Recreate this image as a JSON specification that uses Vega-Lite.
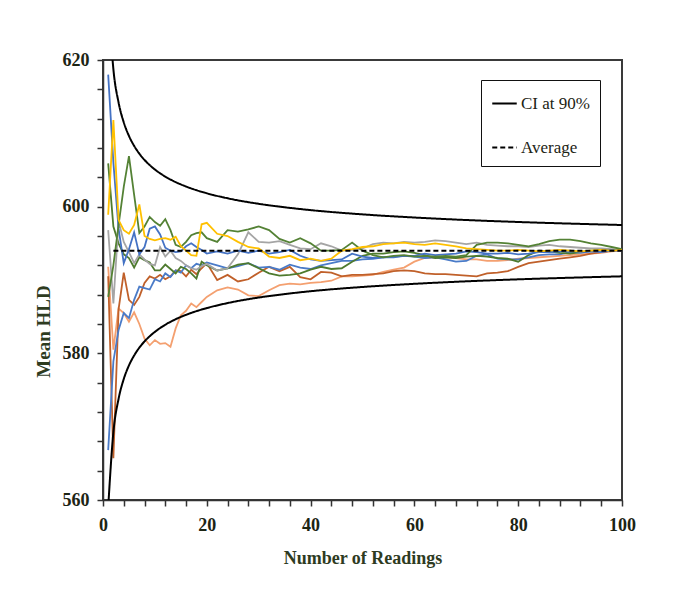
{
  "$schema": "https://vega.github.io/schema/vega-lite/v6.json",
  "width": 519,
  "height": 440,
  "autosize": {"type": "none"},
  "padding": {"left": 103, "top": 60, "right": 54, "bottom": 105},
  "background": "white",
  "config": {
    "font": "Liberation Serif",
    "view": {"stroke": "#3a3a3a", "strokeWidth": 2}
  },
  "datasets": {
    "runs": [
      {"s":"sa","n":1,"v":591.8},{"s":"sa","n":2,"v":580.5},{"s":"sa","n":3,"v":586.1},{"s":"sa","n":4,"v":585.5},{"s":"sa","n":5,"v":584.3},{"s":"sa","n":6,"v":585.6},{"s":"sa","n":7,"v":584.0},{"s":"sa","n":8,"v":582.0},{"s":"sa","n":9,"v":581.1},{"s":"sa","n":10,"v":581.8},
      {"s":"sa","n":11,"v":581.3},{"s":"sa","n":12,"v":581.4},{"s":"sa","n":13,"v":580.9},{"s":"sa","n":14,"v":583.4},{"s":"sa","n":15,"v":585.2},{"s":"sa","n":16,"v":585.8},{"s":"sa","n":17,"v":586.8},{"s":"sa","n":18,"v":586.3},{"s":"sa","n":19,"v":587.0},{"s":"sa","n":20,"v":587.7},
      {"s":"sa","n":22,"v":588.6},{"s":"sa","n":24,"v":589.0},{"s":"sa","n":26,"v":588.7},{"s":"sa","n":28,"v":587.9},{"s":"sa","n":30,"v":587.8},{"s":"sa","n":32,"v":588.6},{"s":"sa","n":34,"v":589.3},{"s":"sa","n":36,"v":589.5},{"s":"sa","n":38,"v":589.4},{"s":"sa","n":40,"v":589.6},
      {"s":"sa","n":42,"v":589.7},{"s":"sa","n":44,"v":589.9},{"s":"sa","n":46,"v":590.5},{"s":"sa","n":48,"v":590.5},{"s":"sa","n":50,"v":590.6},{"s":"sa","n":52,"v":590.7},{"s":"sa","n":54,"v":591.1},{"s":"sa","n":56,"v":591.4},{"s":"sa","n":58,"v":591.7},{"s":"sa","n":60,"v":592.5},
      {"s":"sa","n":62,"v":593.0},{"s":"sa","n":64,"v":593.1},{"s":"sa","n":66,"v":593.1},{"s":"sa","n":68,"v":593.0},{"s":"sa","n":70,"v":592.8},{"s":"sa","n":72,"v":592.8},{"s":"sa","n":74,"v":592.6},{"s":"sa","n":76,"v":592.6},{"s":"sa","n":78,"v":592.7},{"s":"sa","n":80,"v":592.9},
      {"s":"sa","n":82,"v":593.0},{"s":"sa","n":84,"v":593.1},{"s":"sa","n":86,"v":593.2},{"s":"sa","n":88,"v":593.3},{"s":"sa","n":90,"v":593.4},{"s":"sa","n":92,"v":593.5},{"s":"sa","n":94,"v":593.6},{"s":"sa","n":96,"v":593.7},{"s":"sa","n":98,"v":593.9},{"s":"sa","n":100,"v":594.0},

      {"s":"br","n":1,"v":590.5},{"s":"br","n":2,"v":565.7},{"s":"br","n":3,"v":586.0},{"s":"br","n":4,"v":591.0},{"s":"br","n":5,"v":587.3},{"s":"br","n":6,"v":586.6},{"s":"br","n":7,"v":587.7},{"s":"br","n":8,"v":589.6},{"s":"br","n":9,"v":590.5},{"s":"br","n":10,"v":590.2},
      {"s":"br","n":11,"v":590.7},{"s":"br","n":12,"v":590.1},{"s":"br","n":13,"v":590.5},{"s":"br","n":14,"v":591.3},{"s":"br","n":15,"v":591.2},{"s":"br","n":16,"v":590.5},{"s":"br","n":17,"v":591.4},{"s":"br","n":18,"v":590.8},{"s":"br","n":19,"v":591.6},{"s":"br","n":20,"v":592.3},
      {"s":"br","n":22,"v":590.0},{"s":"br","n":24,"v":590.7},{"s":"br","n":26,"v":589.8},{"s":"br","n":28,"v":590.1},{"s":"br","n":30,"v":591.0},{"s":"br","n":32,"v":591.8},{"s":"br","n":34,"v":591.2},{"s":"br","n":36,"v":591.8},{"s":"br","n":38,"v":590.4},{"s":"br","n":40,"v":590.1},
      {"s":"br","n":42,"v":591.1},{"s":"br","n":44,"v":591.0},{"s":"br","n":46,"v":590.5},{"s":"br","n":48,"v":590.7},{"s":"br","n":50,"v":590.7},{"s":"br","n":52,"v":590.8},{"s":"br","n":54,"v":590.9},{"s":"br","n":56,"v":591.2},{"s":"br","n":58,"v":591.3},{"s":"br","n":60,"v":591.2},
      {"s":"br","n":62,"v":590.9},{"s":"br","n":64,"v":590.8},{"s":"br","n":66,"v":590.8},{"s":"br","n":68,"v":590.7},{"s":"br","n":70,"v":590.6},{"s":"br","n":72,"v":590.5},{"s":"br","n":74,"v":590.9},{"s":"br","n":76,"v":591.0},{"s":"br","n":78,"v":591.2},{"s":"br","n":80,"v":591.8},
      {"s":"br","n":82,"v":592.3},{"s":"br","n":84,"v":592.5},{"s":"br","n":86,"v":592.7},{"s":"br","n":88,"v":592.9},{"s":"br","n":90,"v":593.1},{"s":"br","n":92,"v":593.3},{"s":"br","n":94,"v":593.6},{"s":"br","n":96,"v":593.8},{"s":"br","n":98,"v":594.0},{"s":"br","n":100,"v":594.1},

      {"s":"b2","n":1,"v":566.8},{"s":"b2","n":2,"v":578.9},{"s":"b2","n":3,"v":583.2},{"s":"b2","n":4,"v":585.5},{"s":"b2","n":5,"v":584.8},{"s":"b2","n":6,"v":587.3},{"s":"b2","n":7,"v":589.1},{"s":"b2","n":8,"v":588.9},{"s":"b2","n":9,"v":588.7},{"s":"b2","n":10,"v":590.1},
      {"s":"b2","n":11,"v":589.8},{"s":"b2","n":12,"v":590.9},{"s":"b2","n":13,"v":590.4},{"s":"b2","n":14,"v":591.3},{"s":"b2","n":15,"v":591.0},{"s":"b2","n":16,"v":592.0},{"s":"b2","n":17,"v":591.6},{"s":"b2","n":18,"v":592.2},{"s":"b2","n":19,"v":592.0},{"s":"b2","n":20,"v":592.4},
      {"s":"b2","n":22,"v":592.0},{"s":"b2","n":24,"v":591.6},{"s":"b2","n":26,"v":591.9},{"s":"b2","n":28,"v":592.3},{"s":"b2","n":30,"v":591.7},{"s":"b2","n":32,"v":591.8},{"s":"b2","n":34,"v":591.4},{"s":"b2","n":36,"v":592.1},{"s":"b2","n":38,"v":591.7},{"s":"b2","n":40,"v":591.5},
      {"s":"b2","n":42,"v":592.0},{"s":"b2","n":44,"v":592.3},{"s":"b2","n":46,"v":592.6},{"s":"b2","n":48,"v":592.6},{"s":"b2","n":50,"v":592.8},{"s":"b2","n":52,"v":592.9},{"s":"b2","n":54,"v":593.1},{"s":"b2","n":56,"v":593.1},{"s":"b2","n":58,"v":593.3},{"s":"b2","n":60,"v":593.2},
      {"s":"b2","n":62,"v":593.0},{"s":"b2","n":64,"v":593.1},{"s":"b2","n":66,"v":592.8},{"s":"b2","n":68,"v":592.5},{"s":"b2","n":70,"v":592.6},{"s":"b2","n":72,"v":593.3},{"s":"b2","n":74,"v":593.5},{"s":"b2","n":76,"v":592.9},{"s":"b2","n":78,"v":592.8},{"s":"b2","n":80,"v":592.8},
      {"s":"b2","n":82,"v":593.1},{"s":"b2","n":84,"v":593.4},{"s":"b2","n":86,"v":593.5},{"s":"b2","n":88,"v":593.5},{"s":"b2","n":90,"v":593.8},{"s":"b2","n":92,"v":593.7},{"s":"b2","n":94,"v":593.9},{"s":"b2","n":96,"v":593.8},{"s":"b2","n":98,"v":594.0},{"s":"b2","n":100,"v":594.0},

      {"s":"g1","n":1,"v":605.9},{"s":"g1","n":2,"v":597.3},{"s":"g1","n":3,"v":595.0},{"s":"g1","n":4,"v":593.5},{"s":"g1","n":5,"v":593.0},{"s":"g1","n":6,"v":591.7},{"s":"g1","n":7,"v":593.1},{"s":"g1","n":8,"v":592.7},{"s":"g1","n":9,"v":592.4},{"s":"g1","n":10,"v":591.3},
      {"s":"g1","n":11,"v":591.3},{"s":"g1","n":12,"v":592.1},{"s":"g1","n":13,"v":591.5},{"s":"g1","n":14,"v":590.9},{"s":"g1","n":15,"v":591.8},{"s":"g1","n":16,"v":591.5},{"s":"g1","n":17,"v":590.9},{"s":"g1","n":18,"v":590.2},{"s":"g1","n":19,"v":592.5},{"s":"g1","n":20,"v":592.0},
      {"s":"g1","n":22,"v":591.3},{"s":"g1","n":24,"v":591.6},{"s":"g1","n":26,"v":592.1},{"s":"g1","n":28,"v":592.3},{"s":"g1","n":30,"v":591.6},{"s":"g1","n":32,"v":590.9},{"s":"g1","n":34,"v":590.6},{"s":"g1","n":36,"v":590.7},{"s":"g1","n":38,"v":590.9},{"s":"g1","n":40,"v":591.4},
      {"s":"g1","n":42,"v":591.8},{"s":"g1","n":44,"v":591.5},{"s":"g1","n":46,"v":591.6},{"s":"g1","n":48,"v":592.5},{"s":"g1","n":50,"v":593.3},{"s":"g1","n":52,"v":593.6},{"s":"g1","n":54,"v":593.6},{"s":"g1","n":56,"v":593.8},{"s":"g1","n":58,"v":593.9},{"s":"g1","n":60,"v":593.7},
      {"s":"g1","n":62,"v":593.4},{"s":"g1","n":64,"v":593.0},{"s":"g1","n":66,"v":593.1},{"s":"g1","n":68,"v":593.0},{"s":"g1","n":70,"v":593.2},{"s":"g1","n":72,"v":593.3},{"s":"g1","n":74,"v":593.2},{"s":"g1","n":76,"v":593.0},{"s":"g1","n":78,"v":592.9},{"s":"g1","n":80,"v":592.5},
      {"s":"g1","n":82,"v":593.4},{"s":"g1","n":84,"v":594.0},{"s":"g1","n":86,"v":593.9},{"s":"g1","n":88,"v":593.7},{"s":"g1","n":90,"v":593.6},{"s":"g1","n":92,"v":593.8},{"s":"g1","n":94,"v":594.0},{"s":"g1","n":96,"v":594.1},{"s":"g1","n":98,"v":594.1},{"s":"g1","n":100,"v":594.1},

      {"s":"gy","n":1,"v":596.8},{"s":"gy","n":2,"v":586.8},{"s":"gy","n":3,"v":598.0},{"s":"gy","n":4,"v":595.2},{"s":"gy","n":5,"v":593.8},{"s":"gy","n":6,"v":592.3},{"s":"gy","n":7,"v":593.5},{"s":"gy","n":8,"v":592.8},{"s":"gy","n":9,"v":592.2},{"s":"gy","n":10,"v":592.0},
      {"s":"gy","n":11,"v":594.5},{"s":"gy","n":12,"v":593.2},{"s":"gy","n":13,"v":594.0},{"s":"gy","n":14,"v":593.0},{"s":"gy","n":15,"v":592.6},{"s":"gy","n":16,"v":592.0},{"s":"gy","n":17,"v":591.6},{"s":"gy","n":18,"v":591.4},{"s":"gy","n":19,"v":591.9},{"s":"gy","n":20,"v":592.2},
      {"s":"gy","n":22,"v":591.3},{"s":"gy","n":24,"v":591.6},{"s":"gy","n":26,"v":593.5},{"s":"gy","n":28,"v":596.5},{"s":"gy","n":30,"v":595.2},{"s":"gy","n":32,"v":595.1},{"s":"gy","n":34,"v":595.3},{"s":"gy","n":36,"v":594.8},{"s":"gy","n":38,"v":594.3},{"s":"gy","n":40,"v":594.2},
      {"s":"gy","n":42,"v":595.0},{"s":"gy","n":44,"v":594.6},{"s":"gy","n":46,"v":594.0},{"s":"gy","n":48,"v":594.1},{"s":"gy","n":50,"v":594.3},{"s":"gy","n":52,"v":594.9},{"s":"gy","n":54,"v":595.1},{"s":"gy","n":56,"v":595.0},{"s":"gy","n":58,"v":595.2},{"s":"gy","n":60,"v":595.1},
      {"s":"gy","n":62,"v":595.2},{"s":"gy","n":64,"v":595.4},{"s":"gy","n":66,"v":595.3},{"s":"gy","n":68,"v":595.1},{"s":"gy","n":70,"v":594.9},{"s":"gy","n":72,"v":595.1},{"s":"gy","n":74,"v":594.8},{"s":"gy","n":76,"v":594.7},{"s":"gy","n":78,"v":594.6},{"s":"gy","n":80,"v":594.6},
      {"s":"gy","n":82,"v":594.5},{"s":"gy","n":84,"v":594.7},{"s":"gy","n":86,"v":594.8},{"s":"gy","n":88,"v":594.6},{"s":"gy","n":90,"v":594.5},{"s":"gy","n":92,"v":594.4},{"s":"gy","n":94,"v":594.3},{"s":"gy","n":96,"v":594.3},{"s":"gy","n":98,"v":594.2},{"s":"gy","n":100,"v":594.1},

      {"s":"b1","n":1,"v":618.0},{"s":"b1","n":2,"v":606.0},{"s":"b1","n":3,"v":597.0},{"s":"b1","n":4,"v":592.3},{"s":"b1","n":5,"v":594.2},{"s":"b1","n":6,"v":596.5},{"s":"b1","n":7,"v":593.5},{"s":"b1","n":8,"v":594.5},{"s":"b1","n":9,"v":597.0},{"s":"b1","n":10,"v":597.3},
      {"s":"b1","n":11,"v":596.2},{"s":"b1","n":12,"v":594.4},{"s":"b1","n":13,"v":594.0},{"s":"b1","n":14,"v":593.8},{"s":"b1","n":15,"v":593.9},{"s":"b1","n":16,"v":594.6},{"s":"b1","n":17,"v":595.0},{"s":"b1","n":18,"v":594.5},{"s":"b1","n":19,"v":594.1},{"s":"b1","n":20,"v":593.6},
      {"s":"b1","n":22,"v":593.9},{"s":"b1","n":24,"v":593.6},{"s":"b1","n":26,"v":594.0},{"s":"b1","n":28,"v":593.7},{"s":"b1","n":30,"v":594.0},{"s":"b1","n":32,"v":593.6},{"s":"b1","n":34,"v":593.8},{"s":"b1","n":36,"v":594.1},{"s":"b1","n":38,"v":593.3},{"s":"b1","n":40,"v":592.8},
      {"s":"b1","n":42,"v":592.6},{"s":"b1","n":44,"v":592.7},{"s":"b1","n":46,"v":592.8},{"s":"b1","n":48,"v":593.6},{"s":"b1","n":50,"v":593.2},{"s":"b1","n":52,"v":593.0},{"s":"b1","n":54,"v":593.1},{"s":"b1","n":56,"v":593.2},{"s":"b1","n":58,"v":593.3},{"s":"b1","n":60,"v":593.3},
      {"s":"b1","n":62,"v":593.6},{"s":"b1","n":64,"v":593.4},{"s":"b1","n":66,"v":593.5},{"s":"b1","n":68,"v":593.6},{"s":"b1","n":70,"v":593.9},{"s":"b1","n":72,"v":593.8},{"s":"b1","n":74,"v":593.6},{"s":"b1","n":76,"v":593.6},{"s":"b1","n":78,"v":593.7},{"s":"b1","n":80,"v":593.5},
      {"s":"b1","n":82,"v":593.6},{"s":"b1","n":84,"v":593.8},{"s":"b1","n":86,"v":593.8},{"s":"b1","n":88,"v":593.9},{"s":"b1","n":90,"v":594.0},{"s":"b1","n":92,"v":593.8},{"s":"b1","n":94,"v":593.9},{"s":"b1","n":96,"v":594.0},{"s":"b1","n":98,"v":594.1},{"s":"b1","n":100,"v":594.1},

      {"s":"g2","n":1,"v":587.7},{"s":"g2","n":2,"v":592.0},{"s":"g2","n":3,"v":597.5},{"s":"g2","n":4,"v":602.7},{"s":"g2","n":5,"v":606.9},{"s":"g2","n":6,"v":601.6},{"s":"g2","n":7,"v":596.4},{"s":"g2","n":8,"v":597.3},{"s":"g2","n":9,"v":598.6},{"s":"g2","n":10,"v":597.9},
      {"s":"g2","n":11,"v":597.4},{"s":"g2","n":12,"v":598.3},{"s":"g2","n":13,"v":596.8},{"s":"g2","n":14,"v":594.8},{"s":"g2","n":15,"v":594.5},{"s":"g2","n":16,"v":595.2},{"s":"g2","n":17,"v":596.1},{"s":"g2","n":18,"v":596.4},{"s":"g2","n":19,"v":596.5},{"s":"g2","n":20,"v":595.7},
      {"s":"g2","n":22,"v":595.2},{"s":"g2","n":24,"v":596.8},{"s":"g2","n":26,"v":596.6},{"s":"g2","n":28,"v":596.9},{"s":"g2","n":30,"v":597.3},{"s":"g2","n":32,"v":596.8},{"s":"g2","n":34,"v":595.6},{"s":"g2","n":36,"v":595.1},{"s":"g2","n":38,"v":595.7},{"s":"g2","n":40,"v":595.0},
      {"s":"g2","n":42,"v":594.0},{"s":"g2","n":44,"v":594.0},{"s":"g2","n":46,"v":594.1},{"s":"g2","n":48,"v":595.1},{"s":"g2","n":50,"v":594.0},{"s":"g2","n":52,"v":593.4},{"s":"g2","n":54,"v":593.1},{"s":"g2","n":56,"v":593.3},{"s":"g2","n":58,"v":593.4},{"s":"g2","n":60,"v":593.2},
      {"s":"g2","n":62,"v":593.3},{"s":"g2","n":64,"v":593.2},{"s":"g2","n":66,"v":593.3},{"s":"g2","n":68,"v":593.2},{"s":"g2","n":70,"v":593.4},{"s":"g2","n":72,"v":594.8},{"s":"g2","n":74,"v":595.1},{"s":"g2","n":76,"v":595.1},{"s":"g2","n":78,"v":595.0},{"s":"g2","n":80,"v":594.8},
      {"s":"g2","n":82,"v":594.6},{"s":"g2","n":84,"v":594.9},{"s":"g2","n":86,"v":595.3},{"s":"g2","n":88,"v":595.5},{"s":"g2","n":90,"v":595.5},{"s":"g2","n":92,"v":595.3},{"s":"g2","n":94,"v":595.0},{"s":"g2","n":96,"v":594.8},{"s":"g2","n":98,"v":594.5},{"s":"g2","n":100,"v":594.2},

      {"s":"gd","n":1,"v":598.9},{"s":"gd","n":2,"v":611.8},{"s":"gd","n":3,"v":598.2},{"s":"gd","n":4,"v":596.8},{"s":"gd","n":5,"v":596.3},{"s":"gd","n":6,"v":597.5},{"s":"gd","n":7,"v":600.3},{"s":"gd","n":8,"v":596.0},{"s":"gd","n":9,"v":595.6},{"s":"gd","n":10,"v":595.4},
      {"s":"gd","n":11,"v":595.6},{"s":"gd","n":12,"v":595.7},{"s":"gd","n":13,"v":595.5},{"s":"gd","n":14,"v":595.9},{"s":"gd","n":15,"v":594.6},{"s":"gd","n":16,"v":594.0},{"s":"gd","n":17,"v":593.4},{"s":"gd","n":18,"v":593.3},{"s":"gd","n":19,"v":597.6},{"s":"gd","n":20,"v":597.8},
      {"s":"gd","n":22,"v":596.3},{"s":"gd","n":24,"v":596.0},{"s":"gd","n":26,"v":595.2},{"s":"gd","n":28,"v":594.5},{"s":"gd","n":30,"v":594.3},{"s":"gd","n":32,"v":593.2},{"s":"gd","n":34,"v":593.0},{"s":"gd","n":36,"v":593.3},{"s":"gd","n":38,"v":592.7},{"s":"gd","n":40,"v":592.9},
      {"s":"gd","n":42,"v":592.6},{"s":"gd","n":44,"v":592.9},{"s":"gd","n":46,"v":594.0},{"s":"gd","n":48,"v":594.2},{"s":"gd","n":50,"v":594.5},{"s":"gd","n":52,"v":594.6},{"s":"gd","n":54,"v":594.9},{"s":"gd","n":56,"v":595.0},{"s":"gd","n":58,"v":595.1},{"s":"gd","n":60,"v":594.9},
      {"s":"gd","n":62,"v":594.8},{"s":"gd","n":64,"v":595.0},{"s":"gd","n":66,"v":594.8},{"s":"gd","n":68,"v":594.6},{"s":"gd","n":70,"v":594.3},{"s":"gd","n":72,"v":594.2},{"s":"gd","n":74,"v":594.1},{"s":"gd","n":76,"v":594.0},{"s":"gd","n":78,"v":594.0},{"s":"gd","n":80,"v":594.1},
      {"s":"gd","n":82,"v":594.0},{"s":"gd","n":84,"v":593.9},{"s":"gd","n":86,"v":594.0},{"s":"gd","n":88,"v":594.1},{"s":"gd","n":90,"v":594.0},{"s":"gd","n":92,"v":593.9},{"s":"gd","n":94,"v":594.0},{"s":"gd","n":96,"v":594.1},{"s":"gd","n":98,"v":594.0},{"s":"gd","n":100,"v":594.1}
    ],
    "bands": [
      {"k":"CI at 90%","b":"up","n":1,"v":629.0},{"k":"CI at 90%","b":"up","n":2,"v":618.75},{"k":"CI at 90%","b":"up","n":3,"v":614.21},{"k":"CI at 90%","b":"up","n":4,"v":611.5},{"k":"CI at 90%","b":"up","n":5,"v":609.65},
      {"k":"CI at 90%","b":"up","n":6,"v":608.29},{"k":"CI at 90%","b":"up","n":7,"v":607.23},{"k":"CI at 90%","b":"up","n":8,"v":606.37},{"k":"CI at 90%","b":"up","n":9,"v":605.67},{"k":"CI at 90%","b":"up","n":10,"v":605.07},
      {"k":"CI at 90%","b":"up","n":12,"v":604.10},{"k":"CI at 90%","b":"up","n":14,"v":603.35},{"k":"CI at 90%","b":"up","n":16,"v":602.75},{"k":"CI at 90%","b":"up","n":18,"v":602.25},{"k":"CI at 90%","b":"up","n":20,"v":601.83},
      {"k":"CI at 90%","b":"up","n":25,"v":601.0},{"k":"CI at 90%","b":"up","n":30,"v":600.39},{"k":"CI at 90%","b":"up","n":35,"v":599.92},{"k":"CI at 90%","b":"up","n":40,"v":599.53},{"k":"CI at 90%","b":"up","n":50,"v":598.95},
      {"k":"CI at 90%","b":"up","n":60,"v":598.52},{"k":"CI at 90%","b":"up","n":70,"v":598.18},{"k":"CI at 90%","b":"up","n":80,"v":597.91},{"k":"CI at 90%","b":"up","n":90,"v":597.69},{"k":"CI at 90%","b":"up","n":100,"v":597.5},
      {"k":"CI at 90%","b":"lo","n":1,"v":559.0},{"k":"CI at 90%","b":"lo","n":2,"v":569.25},{"k":"CI at 90%","b":"lo","n":3,"v":573.79},{"k":"CI at 90%","b":"lo","n":4,"v":576.5},{"k":"CI at 90%","b":"lo","n":5,"v":578.35},
      {"k":"CI at 90%","b":"lo","n":6,"v":579.71},{"k":"CI at 90%","b":"lo","n":7,"v":580.77},{"k":"CI at 90%","b":"lo","n":8,"v":581.63},{"k":"CI at 90%","b":"lo","n":9,"v":582.33},{"k":"CI at 90%","b":"lo","n":10,"v":582.93},
      {"k":"CI at 90%","b":"lo","n":12,"v":583.90},{"k":"CI at 90%","b":"lo","n":14,"v":584.65},{"k":"CI at 90%","b":"lo","n":16,"v":585.25},{"k":"CI at 90%","b":"lo","n":18,"v":585.75},{"k":"CI at 90%","b":"lo","n":20,"v":586.17},
      {"k":"CI at 90%","b":"lo","n":25,"v":587.0},{"k":"CI at 90%","b":"lo","n":30,"v":587.61},{"k":"CI at 90%","b":"lo","n":35,"v":588.08},{"k":"CI at 90%","b":"lo","n":40,"v":588.47},{"k":"CI at 90%","b":"lo","n":50,"v":589.05},
      {"k":"CI at 90%","b":"lo","n":60,"v":589.48},{"k":"CI at 90%","b":"lo","n":70,"v":589.82},{"k":"CI at 90%","b":"lo","n":80,"v":590.09},{"k":"CI at 90%","b":"lo","n":90,"v":590.31},{"k":"CI at 90%","b":"lo","n":100,"v":590.5},
      {"k":"Average","b":"avg","n":2,"v":594.0},{"k":"Average","b":"avg","n":100,"v":594.0}
    ]
  },
  "encoding": {
    "x": {
      "field": "n",
      "type": "quantitative",
      "scale": {"domain": [0, 100], "nice": false, "zero": false},
      "axis": {
        "title": "Number of Readings",
        "values": [0,4,8,12,16,20,24,28,32,36,40,44,48,52,56,60,64,68,72,76,80,84,88,92,96,100],
        "labelExpr": "datum.value % 20 === 0 ? datum.label : ''",
        "grid": false,
        "domainColor": "#333333",
        "domainWidth": 1.5,
        "tickColor": "#333333",
        "tickWidth": 1.5,
        "tickSize": 6,
        "labelFont": "Liberation Serif",
        "labelFontSize": 18,
        "labelFontWeight": "bold",
        "labelColor": "#1c2414",
        "labelPadding": 10,
        "labelFlush": false,
        "titleFont": "Liberation Serif",
        "titleFontSize": 18,
        "titleFontWeight": "bold",
        "titleColor": "#2e3b1f",
        "titlePadding": 15
      }
    },
    "y": {
      "field": "v",
      "type": "quantitative",
      "scale": {"domain": [560, 620], "nice": false, "zero": false},
      "axis": {
        "title": "Mean HLD",
        "values": [560,564,568,572,576,580,584,588,592,596,600,604,608,612,616,620],
        "labelExpr": "datum.value % 20 === 0 ? datum.label : ''",
        "grid": false,
        "domainColor": "#333333",
        "domainWidth": 1.5,
        "tickColor": "#333333",
        "tickWidth": 1.5,
        "tickSize": 6,
        "labelFont": "Liberation Serif",
        "labelFontSize": 18,
        "labelFontWeight": "bold",
        "labelColor": "#1c2414",
        "labelPadding": 8,
        "labelFlush": false,
        "titleFont": "Liberation Serif",
        "titleFontSize": 19,
        "titleFontWeight": "bold",
        "titleColor": "#2e3b1f",
        "titlePadding": 9,
        "titleY": 271
      }
    }
  },
  "layer": [
    {
      "data": {"name": "runs"},
      "mark": {"type": "line", "clip": true},
      "encoding": {
        "color": {
          "field": "s",
          "type": "nominal",
          "scale": {
            "domain": ["sa", "br", "b2", "g1", "gy", "b1", "g2", "gd"],
            "range": ["#F4A070", "#C0602A", "#4A7BC8", "#4E7A2E", "#A5A5A5", "#4472C4", "#548235", "#FFC000"]
          },
          "legend": null
        },
        "strokeWidth": {
          "field": "s",
          "type": "nominal",
          "scale": {
            "domain": ["sa", "br", "b2", "g1", "gy", "b1", "g2", "gd"],
            "range": [1.8, 1.8, 1.8, 1.8, 1.8, 1.8, 1.8, 2.7]
          },
          "legend": null
        }
      }
    },
    {
      "data": {"name": "bands"},
      "mark": {"type": "line", "color": "black", "strokeWidth": 2, "interpolate": "monotone", "clip": true},
      "encoding": {
        "detail": {"field": "b", "type": "nominal"},
        "strokeDash": {
          "field": "k",
          "type": "nominal",
          "scale": {"domain": ["CI at 90%", "Average"], "range": [[1, 0], [5, 3]]},
          "legend": {
            "title": null,
            "orient": "none",
            "legendX": 378,
            "legendY": 20,
            "strokeColor": "#111111",
            "fillColor": "white",
            "padding": 10,
            "symbolType": "stroke",
            "symbolSize": 600,
            "symbolStrokeWidth": 1.8,
            "symbolStrokeColor": "black",
            "labelFont": "Liberation Serif",
            "labelFontSize": 17,
            "labelColor": "#1c2414",
            "labelOffset": 3,
            "rowPadding": 22
          }
        }
      }
    }
  ]
}
